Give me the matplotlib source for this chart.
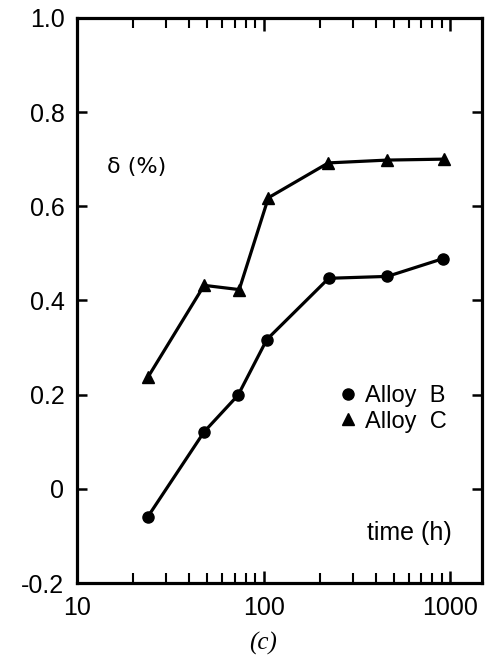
import matplotlib
matplotlib.use("Agg")
import matplotlib.pyplot as plt
from matplotlib.ticker import FixedLocator, LogLocator, NullFormatter

plt.rcParams["font.family"] = ["Liberation Sans", "DejaVu Sans"]

# data: time (h) vs delta (%)
time_b = [24, 48, 73, 104, 223, 460, 918]
delta_b = [-0.059, 0.121, 0.199, 0.317, 0.447, 0.451, 0.489]
time_c = [24, 48, 74, 106, 222, 460, 925]
delta_c = [0.237, 0.432, 0.423, 0.618, 0.692, 0.698, 0.700]

yticks = [-0.2, 0, 0.2, 0.4, 0.6, 0.8, 1.0]
ylabels = ["-0.2", "0", "0.2", "0.4", "0.6", "0.8", "1.0"]
xticks = [10, 100, 1000]
xlabels = ["10", "100", "1000"]

fig = plt.figure(figsize=(4.9, 6.61), dpi=100)
ax = fig.add_axes([0.157, 0.118, 0.827, 0.855])

# lines, then markers on their own so the legend shows only the symbols
ax.plot(time_b, delta_b, color="black", lw=2.3)
ax.plot(time_c, delta_c, color="black", lw=2.3)
ax.plot(time_b, delta_b, "o", color="black", ms=8, label="Alloy  B")
ax.plot(time_c, delta_c, "^", color="black", ms=9, label="Alloy  C")

ax.set_xscale("log")
ax.set_xlim(10, 1480)
ax.set_ylim(-0.2, 1.0)

ax.xaxis.set_major_locator(FixedLocator(xticks))
ax.set_xticklabels(xlabels)
ax.xaxis.set_minor_locator(LogLocator(base=10, subs=range(2, 10)))
ax.xaxis.set_minor_formatter(NullFormatter())
ax.yaxis.set_major_locator(FixedLocator(yticks))
ax.set_yticklabels(ylabels)

for s in ax.spines.values():
    s.set_linewidth(2.3)
ax.tick_params(which="major", direction="in", length=9, width=1.8,
               top=True, right=True, labelsize=18, pad=9)
ax.tick_params(which="minor", direction="in", length=7, width=1.5,
               top=True, right=True)
ax.tick_params(axis="y", which="major", length=7)

ax.text(0.074, 0.736, "δ (%)", transform=ax.transAxes, fontsize=16,
        family=["DejaVu Sans"], va="center")
ax.text(0.716, 0.0885, "time (h)", transform=ax.transAxes, fontsize=18, va="center")

ax.legend(loc="center left", bbox_to_anchor=(0.652, 0.308), frameon=False,
          fontsize=17, handlelength=0.6, handletextpad=0.4,
          labelspacing=0.15, borderaxespad=0, borderpad=0)

fig.text(0.537, 0.027, "(c)", fontsize=18, family=["Liberation Serif"],
         style="italic", ha="center", va="center")

fig.savefig("out.png", dpi=100)
